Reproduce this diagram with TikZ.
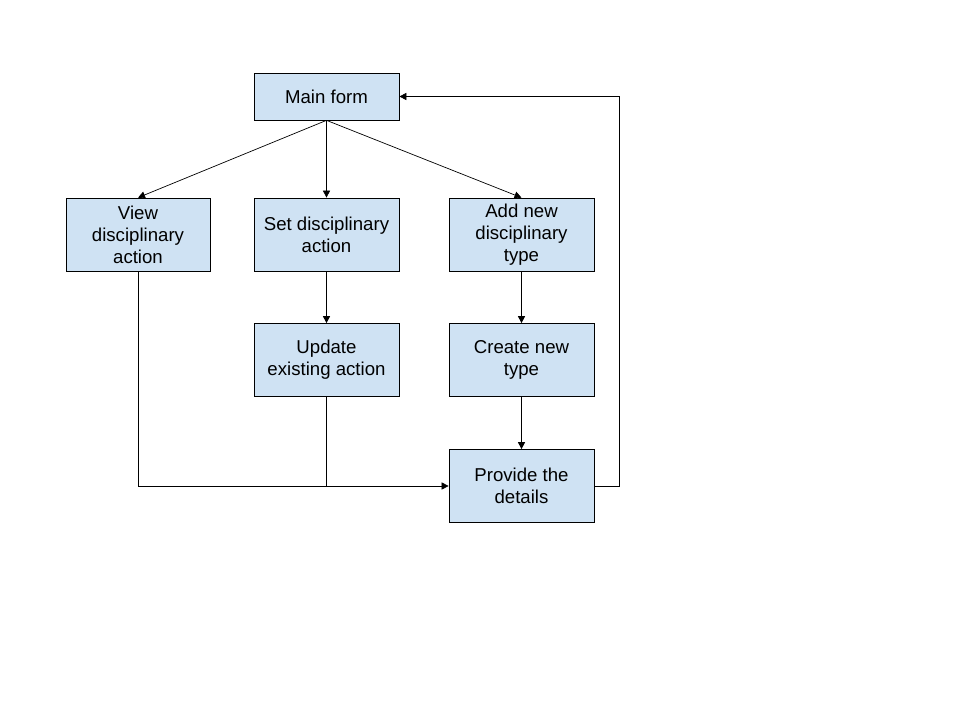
\documentclass[tikz,border=0pt]{standalone}
\usepackage{fontspec}
\setmainfont{Liberation Sans}
\usetikzlibrary{arrows.meta}
\definecolor{boxblue}{HTML}{CFE2F3}
\tikzset{
    stepbox/.style={draw=black, fill=boxblue, minimum width=2.9cm, minimum height=1.46cm,
        align=center, inner sep=0pt, font=\fontsize{10.6}{12.6}\selectfont},
    flow/.style={-{Triangle[length=4pt,width=4pt]}, thin}
}
\begin{document}
\begin{tikzpicture}[x=0.02cm, y=-0.02cm]
    \useasboundingbox[fill=white] (0,0) rectangle (960,720);

    % boxes
    \node[stepbox, minimum height=0.94cm] (main) at (326.5,96.5) {Main form};
    \node[stepbox, minimum width=2.88cm] (view) at (138,234.5) {View\\disciplinary\\action};
    \node[stepbox] (set) at (326.5,234.5) {Set disciplinary\\action};
    \node[stepbox] (add) at (521.5,234.5) {Add new\\disciplinary\\type};
    \node[stepbox] (update) at (326.5,360) {Update\\existing action};
    \node[stepbox] (create) at (521.5,360) {Create new\\type};
    \node[stepbox] (details) at (521.5,486) {Provide the\\details};

    % helper points
    \coordinate (join) at (update.south |- details.west);
    \coordinate (back) at (619,486);

    % connectors
    \draw[flow] (main.south) -- (view.north);
    \draw[flow] (main.south) -- (set.north);
    \draw[flow] (main.south) -- (add.north);
    \draw[flow] (set) -- (update);
    \draw[flow] (add) -- (create);
    \draw[flow] (create) -- (details);
    \draw[flow] (view.south) |- (details.west);
    \draw (update.south) -- (join);
    \draw[flow] (details.east) -- (back) |- (main.east);
\end{tikzpicture}
\end{document}
